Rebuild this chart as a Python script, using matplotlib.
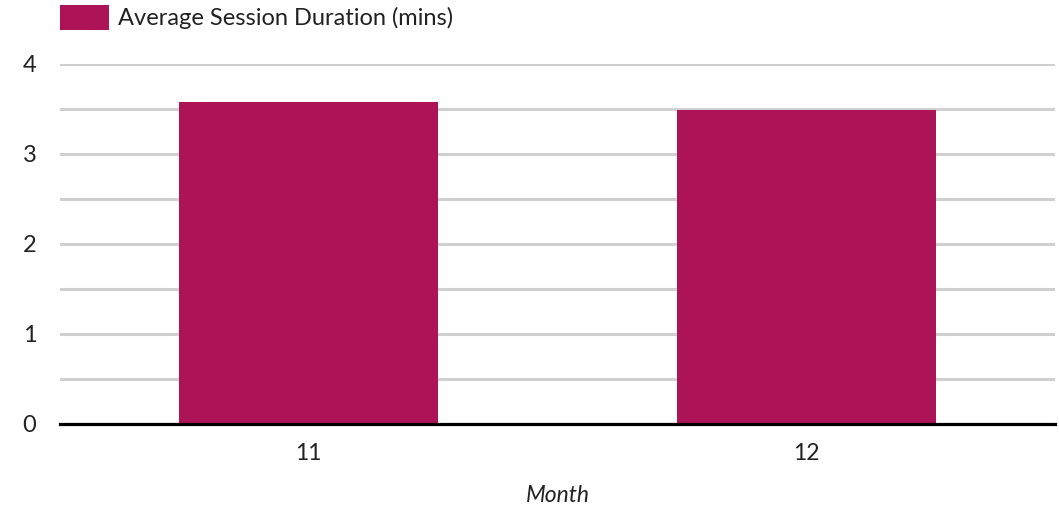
import matplotlib
matplotlib.use("Agg")
import matplotlib.pyplot as plt
from matplotlib.patches import Patch
from matplotlib.ticker import MultipleLocator

plt.rcParams["font.family"] = ["Lato", "DejaVu Sans"]

# Monthly average session duration
months = ["11", "12"]
avg_session_mins = [3.58, 3.49]
series_label = "Average Session Duration (mins)"
bar_color = "#AD1457"

W, H, DPI = 1059, 513, 100
fig = plt.figure(figsize=(W / DPI, H / DPI), dpi=DPI)

left, right, bottom, top = 60, 1055, 424, 64
ax = fig.add_axes([left / W, 1 - bottom / H, (right - left) / W, (bottom - top) / H])

x = range(len(months))
ax.bar(x, avg_session_mins, width=0.52, color=bar_color, zorder=3)

ax.set_xlim(-0.5, len(months) - 0.5)
ax.set_ylim(0, 4)
ax.set_xticks(list(x))
ax.set_xticklabels(months)
ax.yaxis.set_major_locator(MultipleLocator(1))
ax.yaxis.set_minor_locator(MultipleLocator(0.5))

ax.grid(axis="y", which="both", color="#d0d0d0", linewidth=2.2, zorder=0)
ax.axhline(0, color="black", linewidth=2.3, zorder=4, clip_on=False)

for s in ax.spines.values():
    s.set_visible(False)
ax.tick_params(axis="both", which="both", length=0)
ax.tick_params(axis="y", labelsize=17, pad=17, labelcolor="#222222")
ax.tick_params(axis="x", labelsize=16.5, pad=14, labelcolor="#222222")
ax.set_xlabel("Month", fontsize=16.5, style="italic", labelpad=15, color="#222222")

handle = Patch(facecolor=bar_color, edgecolor="none")
fig.legend([handle], [series_label], loc="upper left",
           bbox_to_anchor=(left / W, 1 - 5 / H), frameon=False,
           fontsize=17, handlelength=2.08, handleheight=1.25,
           handletextpad=0.38, borderpad=0, borderaxespad=0,
           labelcolor="#222222")

fig.savefig("out.png", dpi=DPI)
